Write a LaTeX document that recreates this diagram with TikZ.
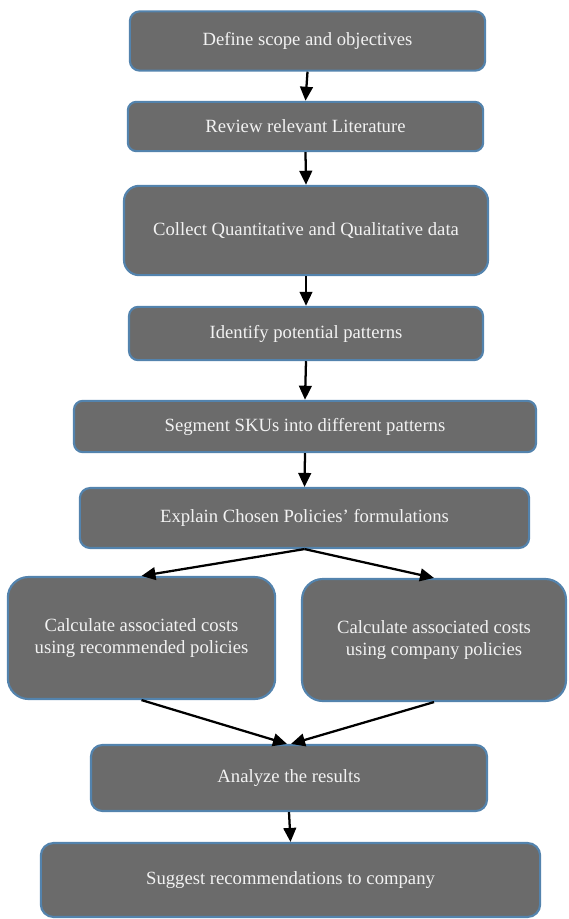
\documentclass[tikz,border=0pt]{standalone}
\usepackage{fontspec}
\setmainfont{Liberation Serif}
\usetikzlibrary{arrows.meta}
\definecolor{boxfill}{HTML}{6B6B6B}
\definecolor{boxline}{HTML}{5383AD}
\definecolor{boxtext}{HTML}{F2F2F2}
\begin{document}
\begin{tikzpicture}[x=0.75pt,y=-0.75pt,
  box/.style={draw=boxline, line width=1.6pt, fill=boxfill, text=boxtext,
    align=center, inner sep=0pt, font=\fontsize{14}{16.5}\selectfont},
  conn/.style={draw=black, line width=1.7pt, -{Triangle[length=10.5pt,width=9.5pt]}}]
\useasboundingbox (0,0) rectangle (568,919);
\node[box, minimum width=266.5pt, minimum height=44.5pt, rounded corners=7.5pt] (n1) at (307.5,41) {Define scope and objectives};
\node[box, minimum width=266.5pt, minimum height=37pt, rounded corners=6.4pt] (n2) at (305.5,126.5) {Review relevant Literature};
\node[box, minimum width=273pt, minimum height=67pt, rounded corners=11.4pt] (n3) at (306,230.5) {Collect Quantitative and Qualitative data};
\node[box, minimum width=265.5pt, minimum height=40pt, rounded corners=6.9pt] (n4) at (306,333.5) {Identify potential patterns};
\node[box, minimum width=346.5pt, minimum height=38.5pt, rounded corners=6.6pt] (n5) at (305,426.5) {Segment SKUs into different patterns};
\node[box, minimum width=337pt, minimum height=45pt, rounded corners=7.75pt] (n6) at (304.5,518) {Explain Chosen Policies’ formulations};
\node[box, minimum width=200.5pt, minimum height=91.5pt, rounded corners=15.5pt] (n7) at (141.5,638) {Calculate associated costs\\using recommended policies};
\node[box, minimum width=198pt, minimum height=91.5pt, rounded corners=15.5pt] (n8) at (434,640) {Calculate associated costs\\using company policies};
\node[box, minimum width=297pt, minimum height=49.5pt, rounded corners=8.5pt] (n9) at (289,778) {Analyze the results};
\node[box, minimum width=374.5pt, minimum height=55.5pt, rounded corners=9.5pt] (n10) at (290.5,880) {Suggest recommendations to company};
\draw[conn] (n1.south) -- (n2.north);
\draw[conn] (n2.south) -- (n3.north);
\draw[conn] (n3.south) -- (n4.north);
\draw[conn] (n4.south) -- (n5.north);
\draw[conn] (n5.south) -- (n6.north);
\draw[conn] (n6.south) -- (n7.north);
\draw[conn] (n6.south) -- (n8.north);
\draw[conn] (n7.south) -- ([xshift=-1.5pt]n9.north);
\draw[conn] (n8.south) -- ([xshift=1.5pt]n9.north);
\draw[conn] (n9.south) -- (n10.north);
\end{tikzpicture}
\end{document}
